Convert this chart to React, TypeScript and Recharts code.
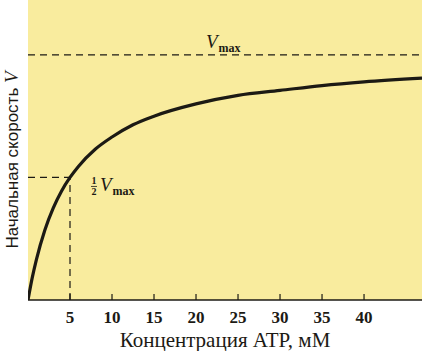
import React from "react";
import {
  ComposedChart,
  Line,
  XAxis,
  YAxis,
  CartesianGrid,
  ReferenceLine,
} from "recharts";

// ATP concentration, mM
const atpConc = [0, 0.5, 1, 2, 3, 4, 5, 6, 8, 10, 12.5, 15, 20, 25, 30, 35, 40, 46.9];
// Initial velocity (% of Vmax)
const velocity = [0, 9, 16.5, 28.5, 37.5, 44.5, 50, 54.5, 61.5, 66.5, 71.5, 75, 80, 83.5, 85.5, 87.5, 89, 90.5];
const xTicks = [5, 10, 15, 20, 25, 30, 35, 40];
const vMax = 100;
const halfVMax = 50;
const kM = 5;
const xDomain: [number, number] = [0, 46.9];
const yDomain: [number, number] = [0, 122.4];

const data = atpConc.map((c, i) => ({ c, v: velocity[i] }));

const INK = "#1c1a14";
const SERIF = "'Liberation Serif', 'DejaVu Serif', serif";

const Tick = (props: any) => {
  const { x, y, payload } = props;
  return (
    <g>
      <line x1={x} y1={y} x2={x} y2={y - 6} stroke={INK} strokeWidth={1.2} />
      <text
        x={x}
        y={y + 23}
        textAnchor="middle"
        fontFamily={SERIF}
        fontWeight="bold"
        fontSize={17}
        fill={INK}
      >
        {payload.value}
      </text>
    </g>
  );
};

const VmaxLabel = (props: any) => {
  const { viewBox } = props;
  const x = viewBox.x + 178;
  const y = viewBox.y - 7;
  return (
    <text x={x} y={y} fontFamily={SERIF} fill={INK}>
      <tspan fontStyle="italic" fontSize={19}>V</tspan>
      <tspan fontWeight="bold" fontSize={12} dy={4} dx={1}>max</tspan>
    </text>
  );
};

const HalfLabel = (props: any) => {
  const { viewBox } = props;
  const x = viewBox.x + viewBox.width + 24;
  const y = viewBox.y + 12;
  return (
    <g fontFamily={SERIF} fill={INK}>
      <text x={x} y={y - 5} fontSize={10} fontWeight="bold" textAnchor="middle">1</text>
      <line x1={x - 3} y1={y - 3} x2={x + 3} y2={y - 3} stroke={INK} strokeWidth={0.8} />
      <text x={x} y={y + 6} fontSize={10} fontWeight="bold" textAnchor="middle">2</text>
      <text x={x + 6} y={y + 2}>
        <tspan fontStyle="italic" fontSize={19}>V</tspan>
        <tspan fontWeight="bold" fontSize={12} dy={4} dx={1}>max</tspan>
      </text>
    </g>
  );
};

export default function App() {
  return (
    <div style={{ position: "absolute", left: 0, top: 0, width: 426, height: 351, background: "#fff" }}>
      <ComposedChart
        width={426}
        height={351}
        data={data}
        margin={{ top: 0, right: 4, left: 28, bottom: 0 }}
      >
        <CartesianGrid fill="#f9ec9e" stroke="none" horizontal={false} vertical={false} />
        <XAxis
          dataKey="c"
          type="number"
          domain={xDomain}
          ticks={xTicks}
          allowDataOverflow
          tickSize={0}
          tickMargin={0}
          tickLine={false}
          tick={<Tick />}
          height={51}
          axisLine={{ stroke: INK, strokeWidth: 1.3 }}
          label={{
            value: "Концентрация ATP, мМ",
            position: "insideBottom",
            offset: 4,
            fontFamily: SERIF,
            fontSize: 21,
            fill: INK,
          }}
        />
        <YAxis
          type="number"
          domain={yDomain}
          allowDataOverflow
          width={0}
          tick={false}
          tickLine={false}
          axisLine={{ stroke: INK, strokeWidth: 1.3 }}
        />
        <ReferenceLine
          y={vMax}
          stroke={INK}
          strokeWidth={1.2}
          strokeDasharray="7 5"
          label={<VmaxLabel />}
        />
        <ReferenceLine
          segment={[
            { x: 0, y: halfVMax },
            { x: kM, y: halfVMax },
          ]}
          stroke={INK}
          strokeWidth={1.2}
          strokeDasharray="7 5"
          label={<HalfLabel />}
        />
        <ReferenceLine
          segment={[
            { x: kM, y: 0 },
            { x: kM, y: halfVMax },
          ]}
          stroke={INK}
          strokeWidth={1.2}
          strokeDasharray="7 5"
        />
        <Line
          dataKey="v"
          type="monotone"
          stroke={INK}
          strokeWidth={3.2}
          dot={false}
          isAnimationActive={false}
        />
      </ComposedChart>
      <div
        style={{
          position: "absolute",
          left: 12,
          top: 160,
          transform: "translate(-50%, -50%) rotate(-90deg)",
          whiteSpace: "nowrap",
          fontFamily: "'Liberation Sans', Arial, sans-serif",
          fontSize: 17,
          color: INK,
        }}
      >
        Начальная скорость <i style={{ fontFamily: SERIF, fontSize: 19 }}>V</i>
      </div>
    </div>
  );
}
